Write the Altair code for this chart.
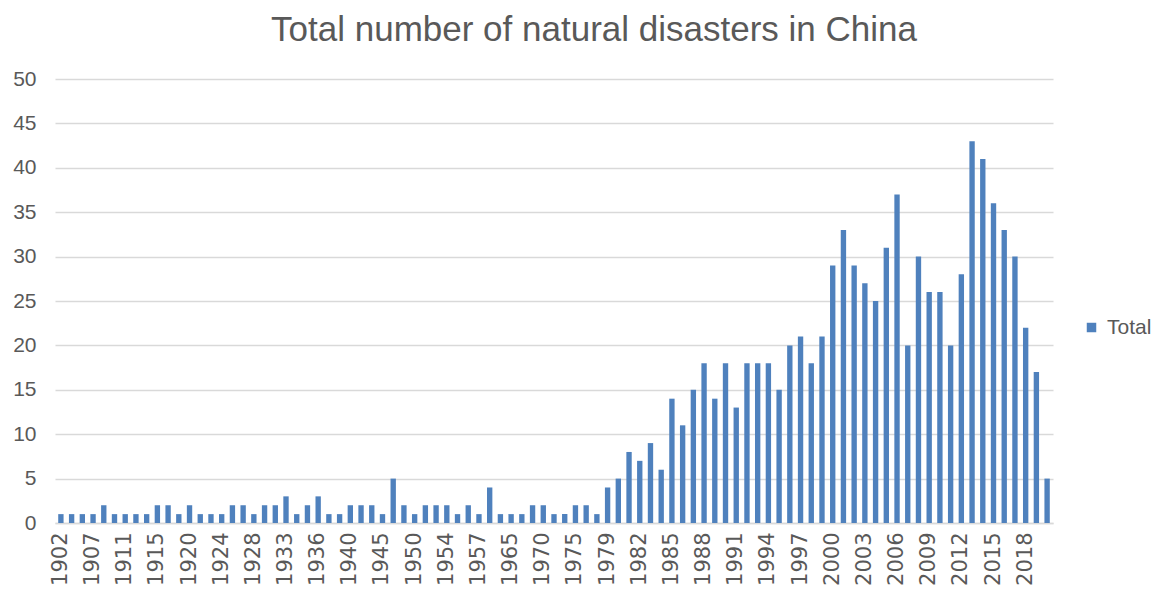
import altair as alt
import pandas as pd

years = [
    "1902", "1903", "1904", "1907", "1908", "1909", "1911", "1912", "1913",
    "1915", "1916", "1918", "1920", "1921", "1922", "1924", "1925", "1926",
    "1928", "1929", "1931", "1933", "1934", "1935", "1936", "1937", "1938",
    "1940", "1941", "1943", "1945", "1946", "1948", "1950", "1951", "1952",
    "1954", "1955", "1956", "1957", "1958", "1960", "1965", "1966", "1969",
    "1970", "1971", "1973", "1975", "1976", "1977",
    "1979", "1980", "1981", "1982", "1983", "1984", "1985", "1986", "1987",
    "1988", "1989", "1990", "1991", "1992", "1993", "1994", "1995", "1996",
    "1997", "1998", "1999", "2000", "2001", "2002", "2003", "2004", "2005",
    "2006", "2007", "2008", "2009", "2010", "2011", "2012", "2013", "2014",
    "2015", "2016", "2017", "2018", "2019", "2020",
]
totals = [
    1, 1, 1, 1, 2, 1, 1, 1, 1,
    2, 2, 1, 2, 1, 1, 1, 2, 2,
    1, 2, 2, 3, 1, 2, 3, 1, 1,
    2, 2, 2, 1, 5, 2, 1, 2, 2,
    2, 1, 2, 1, 4, 1, 1, 1, 2,
    2, 1, 1, 2, 2, 1,
    4, 5, 8, 7, 9, 6, 14, 11, 15,
    18, 14, 18, 13, 18, 18, 18, 15, 20,
    21, 18, 21, 29, 33, 29, 27, 25, 31,
    37, 20, 30, 26, 26, 20, 28, 43, 41,
    36, 33, 30, 22, 17, 5,
]
tick_years = [
    "1902", "1907", "1911", "1915", "1920", "1924", "1928", "1933", "1936",
    "1940", "1945", "1950", "1954", "1957", "1965", "1970", "1975", "1979",
    "1982", "1985", "1988", "1991", "1994", "1997", "2000", "2003", "2006",
    "2009", "2012", "2015", "2018",
]
y_ticks = [0, 5, 10, 15, 20, 25, 30, 35, 40, 45, 50]

df = pd.DataFrame({"Year": years, "Total": totals, "Series": ["Total"] * len(years)})

gray = "#595959"
grid = "#d9d9d9"

chart = alt.Chart(df).mark_bar(color="#4f81bd").encode(
    x=alt.X(
        "Year:N",
        sort=years,
        scale=alt.Scale(paddingInner=0.5, paddingOuter=0.3),
        axis=alt.Axis(
            title=None,
            values=tick_years,
            labelAngle=270,
            labelFont="DejaVu Sans",
            labelFontSize=21,
            labelColor=gray,
            labelPadding=9,
            ticks=False,
            domainColor=grid,
            domainWidth=1.5,
            grid=False,
        ),
    ),
    y=alt.Y(
        "Total:Q",
        scale=alt.Scale(domain=[0, 50], nice=False),
        axis=alt.Axis(
            title=None,
            values=y_ticks,
            labelFont="Liberation Sans",
            labelFontSize=21,
            labelColor=gray,
            labelPadding=19,
            ticks=False,
            domain=False,
            gridColor=grid,
            gridWidth=1.5,
        ),
    ),
    color=alt.Color(
        "Series:N",
        scale=alt.Scale(range=["#4f81bd"]),
        legend=alt.Legend(
            title=None,
            orient="none",
            legendX=1026,
            legendY=238,
            symbolType="square",
            symbolSize=90,
            symbolStrokeWidth=0,
            labelFont="Liberation Sans",
            labelFontSize=21,
            labelColor=gray,
            labelOffset=5,
        ),
    ),
).properties(
    width=998,
    height=444,
    padding={"left": 47, "top": 71, "right": 102, "bottom": 70},
    autosize=alt.AutoSizeParams(type="none"),
    title=alt.TitleParams(
        "Total number of natural disasters in China",
        font="Liberation Sans",
        fontSize=35,
        fontWeight="normal",
        color=gray,
        anchor="middle",
        dx=40,
        offset=20,
    ),
).configure_view(stroke=None)

chart.save("out.html", embed_options={"renderer": "svg", "actions": False})
